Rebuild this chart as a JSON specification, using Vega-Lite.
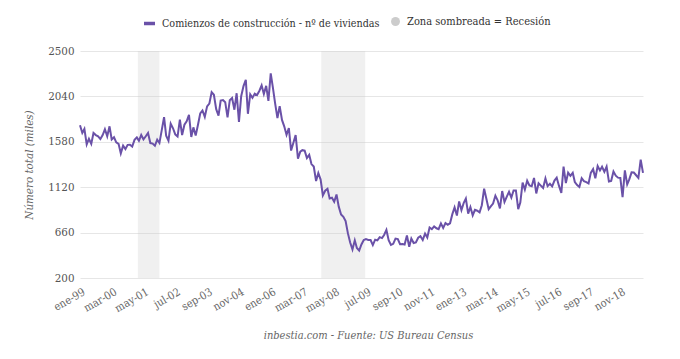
{
  "$schema": "https://vega.github.io/schema/vega-lite/v6.json",
  "width": 563,
  "height": 227,
  "autosize": {"type": "none"},
  "padding": {"left": 80, "top": 51, "right": 37, "bottom": 81},
  "background": "white",
  "config": {
    "font": "DejaVu Serif Condensed",
    "view": {"stroke": null}
  },
  "layer": [
    {
      "data": {"values": [
        {"start": "2001-02-15", "end": "2001-12-01"},
        {"start": "2007-11-10", "end": "2009-06-20"}
      ]},
      "mark": {"type": "rect", "opacity": 0.3},
      "encoding": {
        "x": {"field": "start", "type": "temporal"},
        "x2": {"field": "end"},
        "fill": {
          "datum": "Zona sombreada = Recesión",
          "type": "nominal",
          "scale": {"range": ["#cccccc"]},
          "legend": {
            "orient": "none", "legendX": 310, "legendY": -35, "title": null,
            "symbolType": "circle", "symbolSize": 80, "symbolOpacity": 1, "symbolStrokeWidth": 0,
            "labelFont": "DejaVu Serif Condensed",
            "labelFontSize": 11, "labelColor": "#333333", "labelOffset": 6, "labelLimit": 400
          }
        }
      }
    },
    {
      "data": {"values": [
        {"d":"1999-01-01","v":1748},{"d":"1999-02-01","v":1670},{"d":"1999-03-01","v":1710},{"d":"1999-04-01","v":1553},{"d":"1999-05-01","v":1611},{"d":"1999-06-01","v":1559},{"d":"1999-07-01","v":1669},{"d":"1999-08-01","v":1648},{"d":"1999-09-01","v":1635},{"d":"1999-10-01","v":1608},{"d":"1999-11-01","v":1648},{"d":"1999-12-01","v":1708},
        {"d":"2000-01-01","v":1636},{"d":"2000-02-01","v":1737},{"d":"2000-03-01","v":1604},{"d":"2000-04-01","v":1626},{"d":"2000-05-01","v":1575},{"d":"2000-06-01","v":1559},{"d":"2000-07-01","v":1463},{"d":"2000-08-01","v":1541},{"d":"2000-09-01","v":1507},{"d":"2000-10-01","v":1549},{"d":"2000-11-01","v":1551},{"d":"2000-12-01","v":1532},
        {"d":"2001-01-01","v":1600},{"d":"2001-02-01","v":1625},{"d":"2001-03-01","v":1590},{"d":"2001-04-01","v":1649},{"d":"2001-05-01","v":1605},{"d":"2001-06-01","v":1636},{"d":"2001-07-01","v":1670},{"d":"2001-08-01","v":1567},{"d":"2001-09-01","v":1562},{"d":"2001-10-01","v":1540},{"d":"2001-11-01","v":1602},{"d":"2001-12-01","v":1568},
        {"d":"2002-01-01","v":1698},{"d":"2002-02-01","v":1829},{"d":"2002-03-01","v":1642},{"d":"2002-04-01","v":1592},{"d":"2002-05-01","v":1764},{"d":"2002-06-01","v":1717},{"d":"2002-07-01","v":1655},{"d":"2002-08-01","v":1633},{"d":"2002-09-01","v":1804},{"d":"2002-10-01","v":1648},{"d":"2002-11-01","v":1753},{"d":"2002-12-01","v":1788},
        {"d":"2003-01-01","v":1853},{"d":"2003-02-01","v":1629},{"d":"2003-03-01","v":1726},{"d":"2003-04-01","v":1643},{"d":"2003-05-01","v":1751},{"d":"2003-06-01","v":1867},{"d":"2003-07-01","v":1897},{"d":"2003-08-01","v":1833},{"d":"2003-09-01","v":1939},{"d":"2003-10-01","v":1967},{"d":"2003-11-01","v":2083},{"d":"2003-12-01","v":2057},
        {"d":"2004-01-01","v":1911},{"d":"2004-02-01","v":1846},{"d":"2004-03-01","v":1998},{"d":"2004-04-01","v":2003},{"d":"2004-05-01","v":1981},{"d":"2004-06-01","v":1828},{"d":"2004-07-01","v":2002},{"d":"2004-08-01","v":2024},{"d":"2004-09-01","v":1905},{"d":"2004-10-01","v":2072},{"d":"2004-11-01","v":1782},{"d":"2004-12-01","v":2042},
        {"d":"2005-01-01","v":2144},{"d":"2005-02-01","v":2207},{"d":"2005-03-01","v":1864},{"d":"2005-04-01","v":2061},{"d":"2005-05-01","v":2025},{"d":"2005-06-01","v":2068},{"d":"2005-07-01","v":2054},{"d":"2005-08-01","v":2095},{"d":"2005-09-01","v":2151},{"d":"2005-10-01","v":2065},{"d":"2005-11-01","v":2147},{"d":"2005-12-01","v":1994},
        {"d":"2006-01-01","v":2273},{"d":"2006-02-01","v":2119},{"d":"2006-03-01","v":1969},{"d":"2006-04-01","v":1821},{"d":"2006-05-01","v":1942},{"d":"2006-06-01","v":1802},{"d":"2006-07-01","v":1737},{"d":"2006-08-01","v":1650},{"d":"2006-09-01","v":1720},{"d":"2006-10-01","v":1491},{"d":"2006-11-01","v":1570},{"d":"2006-12-01","v":1649},
        {"d":"2007-01-01","v":1409},{"d":"2007-02-01","v":1480},{"d":"2007-03-01","v":1495},{"d":"2007-04-01","v":1490},{"d":"2007-05-01","v":1415},{"d":"2007-06-01","v":1448},{"d":"2007-07-01","v":1354},{"d":"2007-08-01","v":1330},{"d":"2007-09-01","v":1183},{"d":"2007-10-01","v":1264},{"d":"2007-11-01","v":1197},{"d":"2007-12-01","v":1037},
        {"d":"2008-01-01","v":1084},{"d":"2008-02-01","v":1103},{"d":"2008-03-01","v":1005},{"d":"2008-04-01","v":1013},{"d":"2008-05-01","v":973},{"d":"2008-06-01","v":1046},{"d":"2008-07-01","v":923},{"d":"2008-08-01","v":844},{"d":"2008-09-01","v":820},{"d":"2008-10-01","v":777},{"d":"2008-11-01","v":652},{"d":"2008-12-01","v":560},
        {"d":"2009-01-01","v":490},{"d":"2009-02-01","v":582},{"d":"2009-03-01","v":505},{"d":"2009-04-01","v":478},{"d":"2009-05-01","v":540},{"d":"2009-06-01","v":585},{"d":"2009-07-01","v":594},{"d":"2009-08-01","v":586},{"d":"2009-09-01","v":585},{"d":"2009-10-01","v":534},{"d":"2009-11-01","v":588},{"d":"2009-12-01","v":581},
        {"d":"2010-01-01","v":614},{"d":"2010-02-01","v":604},{"d":"2010-03-01","v":636},{"d":"2010-04-01","v":687},{"d":"2010-05-01","v":583},{"d":"2010-06-01","v":536},{"d":"2010-07-01","v":546},{"d":"2010-08-01","v":599},{"d":"2010-09-01","v":594},{"d":"2010-10-01","v":543},{"d":"2010-11-01","v":545},{"d":"2010-12-01","v":539},
        {"d":"2011-01-01","v":630},{"d":"2011-02-01","v":517},{"d":"2011-03-01","v":600},{"d":"2011-04-01","v":554},{"d":"2011-05-01","v":561},{"d":"2011-06-01","v":608},{"d":"2011-07-01","v":623},{"d":"2011-08-01","v":585},{"d":"2011-09-01","v":650},{"d":"2011-10-01","v":610},{"d":"2011-11-01","v":711},{"d":"2011-12-01","v":694},
        {"d":"2012-01-01","v":723},{"d":"2012-02-01","v":704},{"d":"2012-03-01","v":695},{"d":"2012-04-01","v":753},{"d":"2012-05-01","v":708},{"d":"2012-06-01","v":757},{"d":"2012-07-01","v":740},{"d":"2012-08-01","v":754},{"d":"2012-09-01","v":847},{"d":"2012-10-01","v":915},{"d":"2012-11-01","v":833},{"d":"2012-12-01","v":976},
        {"d":"2013-01-01","v":888},{"d":"2013-02-01","v":962},{"d":"2013-03-01","v":1005},{"d":"2013-04-01","v":853},{"d":"2013-05-01","v":919},{"d":"2013-06-01","v":835},{"d":"2013-07-01","v":891},{"d":"2013-08-01","v":883},{"d":"2013-09-01","v":866},{"d":"2013-10-01","v":937},{"d":"2013-11-01","v":1105},{"d":"2013-12-01","v":1003},
        {"d":"2014-01-01","v":897},{"d":"2014-02-01","v":928},{"d":"2014-03-01","v":954},{"d":"2014-04-01","v":1034},{"d":"2014-05-01","v":987},{"d":"2014-06-01","v":905},{"d":"2014-07-01","v":1081},{"d":"2014-08-01","v":970},{"d":"2014-09-01","v":1024},{"d":"2014-10-01","v":1073},{"d":"2014-11-01","v":1015},{"d":"2014-12-01","v":1087},
        {"d":"2015-01-01","v":1087},{"d":"2015-02-01","v":897},{"d":"2015-03-01","v":964},{"d":"2015-04-01","v":1166},{"d":"2015-05-01","v":1095},{"d":"2015-06-01","v":1185},{"d":"2015-07-01","v":1137},{"d":"2015-08-01","v":1130},{"d":"2015-09-01","v":1214},{"d":"2015-10-01","v":1057},{"d":"2015-11-01","v":1160},{"d":"2015-12-01","v":1136},
        {"d":"2016-01-01","v":1112},{"d":"2016-02-01","v":1208},{"d":"2016-03-01","v":1131},{"d":"2016-04-01","v":1155},{"d":"2016-05-01","v":1128},{"d":"2016-06-01","v":1187},{"d":"2016-07-01","v":1216},{"d":"2016-08-01","v":1133},{"d":"2016-09-01","v":1063},{"d":"2016-10-01","v":1328},{"d":"2016-11-01","v":1162},{"d":"2016-12-01","v":1268},
        {"d":"2017-01-01","v":1235},{"d":"2017-02-01","v":1265},{"d":"2017-03-01","v":1172},{"d":"2017-04-01","v":1141},{"d":"2017-05-01","v":1122},{"d":"2017-06-01","v":1211},{"d":"2017-07-01","v":1181},{"d":"2017-08-01","v":1172},{"d":"2017-09-01","v":1159},{"d":"2017-10-01","v":1265},{"d":"2017-11-01","v":1303},{"d":"2017-12-01","v":1210},
        {"d":"2018-01-01","v":1334},{"d":"2018-02-01","v":1290},{"d":"2018-03-01","v":1327},{"d":"2018-04-01","v":1276},{"d":"2018-05-01","v":1329},{"d":"2018-06-01","v":1177},{"d":"2018-07-01","v":1184},{"d":"2018-08-01","v":1280},{"d":"2018-09-01","v":1237},{"d":"2018-10-01","v":1217},{"d":"2018-11-01","v":1214},{"d":"2018-12-01","v":1020},
        {"d":"2019-01-01","v":1291},{"d":"2019-02-01","v":1149},{"d":"2019-03-01","v":1199},{"d":"2019-04-01","v":1270},{"d":"2019-05-01","v":1269},{"d":"2019-06-01","v":1241},{"d":"2019-07-01","v":1215},{"d":"2019-08-01","v":1400},{"d":"2019-09-01","v":1265}
      ]},
      "mark": {"type": "line", "strokeWidth": 2},
      "encoding": {
        "x": {
          "field": "d", "type": "temporal",
          "scale": {"domain": [{"year": 1999, "month": 1, "date": 1}, {"year": 2019, "month": 9, "date": 1}], "nice": false},
          "axis": {
            "values": [
              {"year": 1999, "month": 1, "date": 1}, {"year": 2000, "month": 3, "date": 1}, {"year": 2001, "month": 5, "date": 1},
              {"year": 2002, "month": 7, "date": 1}, {"year": 2003, "month": 9, "date": 1}, {"year": 2004, "month": 11, "date": 1},
              {"year": 2006, "month": 1, "date": 1}, {"year": 2007, "month": 3, "date": 1}, {"year": 2008, "month": 5, "date": 1},
              {"year": 2009, "month": 7, "date": 1}, {"year": 2010, "month": 9, "date": 1}, {"year": 2011, "month": 11, "date": 1},
              {"year": 2013, "month": 1, "date": 1}, {"year": 2014, "month": 3, "date": 1}, {"year": 2015, "month": 5, "date": 1},
              {"year": 2016, "month": 7, "date": 1}, {"year": 2017, "month": 9, "date": 1}, {"year": 2018, "month": 11, "date": 1}
            ],
            "tickCount": 30,
            "labelExpr": "['ene','feb','mar','abr','may','jun','jul','ago','sep','oct','nov','dic'][month(datum.value)] + '-' + timeFormat(datum.value, '%y')",
            "labelAngle": -30, "labelAlign": "right", "labelBaseline": "middle",
            "labelPadding": 13, "labelOffset": 4, "labelFontSize": 11, "labelColor": "#666666",
            "labelFont": "DejaVu Serif Condensed",
            "labelOverlap": false, "labelFlush": false,
            "grid": false, "ticks": false, "domain": false,
            "title": "inbestia.com - Fuente: US Bureau Census",
            "titleFont": "DejaVu Serif Condensed",
            "titleFontStyle": "italic", "titleFontWeight": "normal", "titleFontSize": 11,
            "titleColor": "#666666", "titlePadding": 16, "titleX": 288, "titleAlign": "center"
          }
        },
        "y": {
          "field": "v", "type": "quantitative",
          "scale": {"domain": [200, 2500], "nice": false, "zero": false},
          "axis": {
            "values": [200, 660, 1120, 1580, 2040, 2500],
            "format": "d",
            "labelFont": "DejaVu Serif Condensed",
            "labelFontSize": 11.5, "labelColor": "#555555", "labelPadding": 6,
            "grid": true, "gridColor": "#e6e6e6", "gridWidth": 1,
            "ticks": false, "domain": false,
            "title": "Número total (miles)",
            "titleFont": "DejaVu Serif Condensed",
            "titleFontStyle": "italic", "titleFontWeight": "normal", "titleFontSize": 11.5,
            "titleColor": "#666666", "titlePadding": 13
          }
        },
        "stroke": {
          "datum": "Comienzos de construcción - nº de viviendas",
          "type": "nominal",
          "scale": {"range": ["#6a51a8"]},
          "legend": {
            "orient": "none", "legendX": 62, "legendY": -35, "title": null,
            "symbolType": "stroke", "symbolStrokeWidth": 3.5, "symbolSize": 120,
            "labelFont": "DejaVu Serif Condensed",
            "labelFontSize": 10.7, "labelColor": "#333333", "labelOffset": 5, "labelLimit": 400
          }
        }
      }
    }
  ],
  "resolve": {"scale": {"fill": "independent", "stroke": "independent"}, "legend": {"fill": "independent", "stroke": "independent"}}
}
